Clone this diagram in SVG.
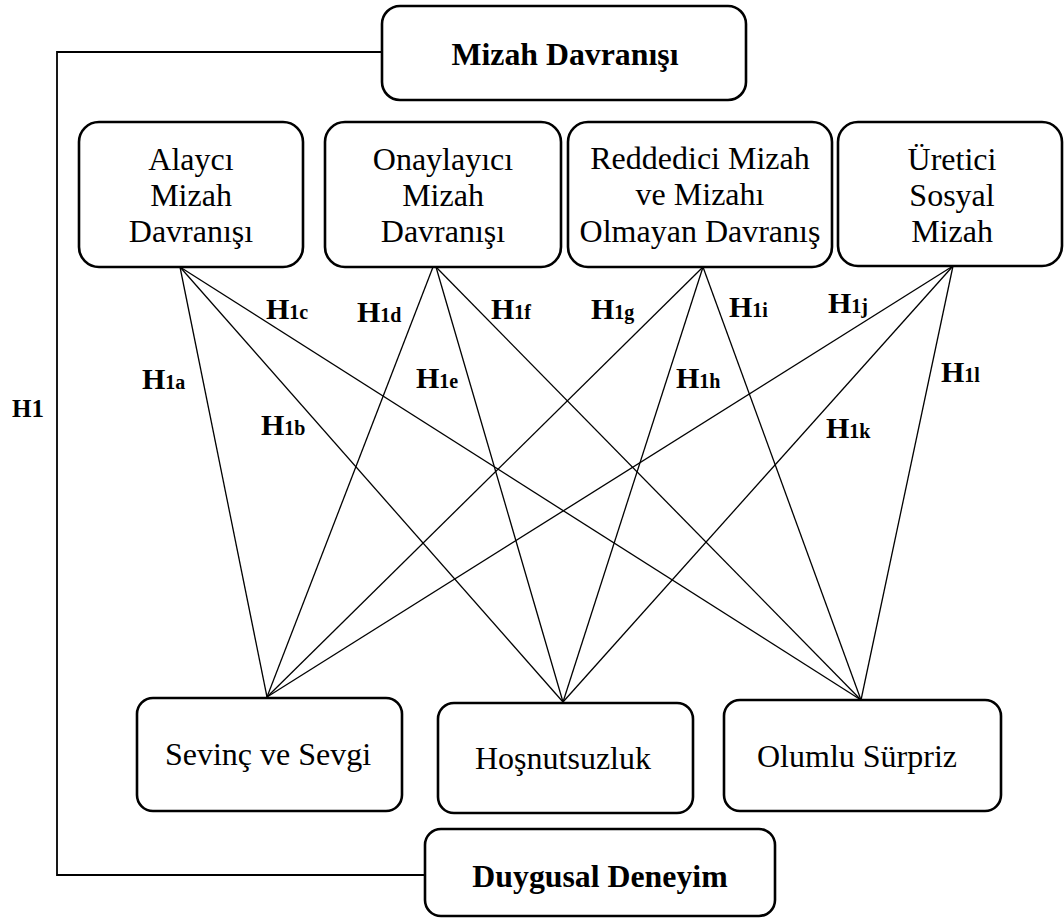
<svg xmlns="http://www.w3.org/2000/svg" width="1064" height="918" viewBox="0 0 1064 918">
<style>
.box{fill:#fff;stroke:#000;stroke-width:2.6}
text{font-family:'Liberation Serif','Times New Roman',serif;fill:#000}
.t{font-size:32px;text-anchor:middle}
.b{font-size:31.8px;font-weight:bold;text-anchor:middle}
.h{font-size:30px;font-weight:bold}
.s{font-size:20px}
.ln{stroke:#000;stroke-width:1.3;fill:none}
.br{stroke:#000;stroke-width:1.8;fill:none}
</style>
<rect width="1064" height="918" fill="#fff"/>
<g id="connectors">
<polyline class="br" points="382,52 57,52 57,875 425,875"/>
<line class="ln" x1="180" y1="267" x2="267" y2="697"/>
<line class="ln" x1="180" y1="267" x2="563" y2="702"/>
<line class="ln" x1="180" y1="267" x2="861" y2="700"/>
<line class="ln" x1="433" y1="267" x2="267" y2="697"/>
<line class="ln" x1="436" y1="267" x2="563" y2="702"/>
<line class="ln" x1="436" y1="267" x2="861" y2="700"/>
<line class="ln" x1="703" y1="267" x2="267" y2="697"/>
<line class="ln" x1="703" y1="267" x2="563" y2="702"/>
<line class="ln" x1="703" y1="267" x2="861" y2="700"/>
<line class="ln" x1="953" y1="266" x2="267" y2="697"/>
<line class="ln" x1="953" y1="266" x2="563" y2="702"/>
<line class="ln" x1="953" y1="266" x2="861" y2="700"/>
</g>
<g id="labels">
<text class="h" x="12" y="417" style="font-size:25px">H1</text>
<text class="h" x="142" y="389">H<tspan class="s">1a</tspan></text>
<text class="h" x="261" y="435">H<tspan class="s">1b</tspan></text>
<text class="h" x="266" y="319">H<tspan class="s">1c</tspan></text>
<text class="h" x="357" y="322">H<tspan class="s">1d</tspan></text>
<text class="h" x="416" y="388">H<tspan class="s">1e</tspan></text>
<text class="h" x="491" y="319">H<tspan class="s">1f</tspan></text>
<text class="h" x="591" y="319">H<tspan class="s">1g</tspan></text>
<text class="h" x="676" y="388">H<tspan class="s">1h</tspan></text>
<text class="h" x="729" y="317">H<tspan class="s">1i</tspan></text>
<text class="h" x="828" y="313">H<tspan class="s">1j</tspan></text>
<text class="h" x="826" y="438">H<tspan class="s">1k</tspan></text>
<text class="h" x="941" y="382">H<tspan class="s">1l</tspan></text>
</g>
<g id="mizah">
<rect class="box" x="382" y="6" width="364" height="94" rx="18"/>
<text class="b" x="565" y="65">Mizah Davranışı</text>
</g>
<g id="alayci">
<rect class="box" x="79" y="122" width="224" height="145" rx="20"/>
<text class="t" x="191" y="170">Alaycı</text>
<text class="t" x="191" y="206">Mizah</text>
<text class="t" x="191" y="242">Davranışı</text>
</g>
<g id="onaylayici">
<rect class="box" x="325" y="122" width="236" height="145" rx="20"/>
<text class="t" x="443" y="170">Onaylayıcı</text>
<text class="t" x="443" y="206">Mizah</text>
<text class="t" x="443" y="242">Davranışı</text>
</g>
<g id="reddedici">
<rect class="box" x="568" y="122" width="264" height="145" rx="20"/>
<text class="t" x="700" y="169">Reddedici Mizah</text>
<text class="t" x="700" y="205">ve Mizahı</text>
<text class="t" x="700" y="242">Olmayan Davranış</text>
</g>
<g id="uretici">
<rect class="box" x="838" y="122" width="224" height="144" rx="20"/>
<text class="t" x="952" y="170">Üretici</text>
<text class="t" x="952" y="206">Sosyal</text>
<text class="t" x="952" y="242">Mizah</text>
</g>
<g id="sevinc">
<rect class="box" x="137" y="698" width="265" height="113" rx="16"/>
<text class="t" x="268" y="765">Sevinç ve Sevgi</text>
</g>
<g id="hosnutsuzluk">
<rect class="box" x="438" y="703" width="255" height="110" rx="16"/>
<text class="t" x="563" y="769">Hoşnutsuzluk</text>
</g>
<g id="olumlu">
<rect class="box" x="724" y="700" width="277" height="111" rx="16"/>
<text class="t" x="857" y="767">Olumlu Sürpriz</text>
</g>
<g id="duygusal">
<rect class="box" x="425" y="829" width="350" height="87" rx="16"/>
<text class="b" x="600" y="887">Duygusal Deneyim</text>
</g>
</svg>
